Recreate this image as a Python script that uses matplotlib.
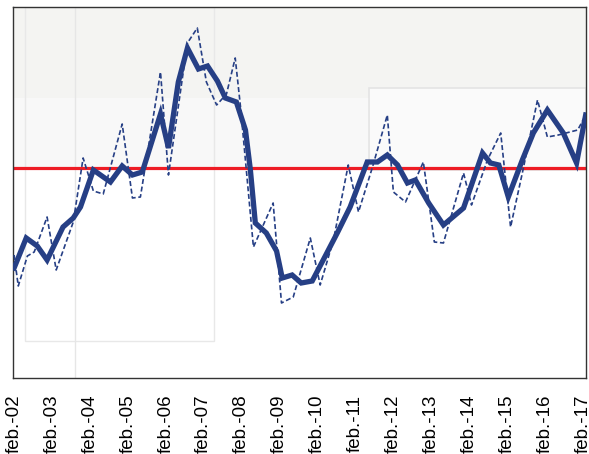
import matplotlib
matplotlib.use("Agg")
import matplotlib.pyplot as plt
from matplotlib.patches import Rectangle

# smoothed series (thick line): decimal year, index value
trend_x = [2002.0, 2002.32, 2002.61, 2002.87, 2003.29, 2003.56, 2003.75, 2004.09,
           2004.54, 2004.85, 2005.12, 2005.38, 2005.86, 2006.07, 2006.33, 2006.57,
           2006.86, 2007.10, 2007.36, 2007.57, 2007.86, 2008.10, 2008.23, 2008.36,
           2008.65, 2008.92, 2009.07, 2009.33, 2009.57, 2009.86, 2010.15, 2010.52,
           2010.86, 2011.31, 2011.58, 2011.84, 2012.11, 2012.37, 2012.58, 2012.93,
           2013.32, 2013.85, 2014.35, 2014.56, 2014.78, 2015.03, 2015.40, 2015.69,
           2016.06, 2016.48, 2016.83, 2017.07]
trend_y = [110, 140, 132, 118, 151, 160, 171, 208,
           196, 212, 203, 206, 264, 230, 296, 330,
           309, 312, 297, 280, 276, 248, 208, 155,
           145, 127, 100, 103, 95, 97, 118, 145,
           171, 216, 216, 223, 213, 195, 198, 175,
           153, 170, 225, 215, 213, 181, 218, 245,
           268, 245, 215, 263]

# quarterly series (dashed line)
raw_x = [2002.0, 2002.11, 2002.35, 2002.53, 2002.87, 2003.11, 2003.56, 2003.82,
         2004.09, 2004.35, 2004.85, 2005.12, 2005.33, 2005.86, 2006.07, 2006.57,
         2006.83, 2007.07, 2007.34, 2007.60, 2007.83, 2007.97, 2008.31, 2008.57,
         2008.83, 2009.05, 2009.36, 2009.81, 2010.07, 2010.42, 2010.81, 2011.08,
         2011.45, 2011.84, 2012.0, 2012.32, 2012.79, 2013.08, 2013.32, 2013.85,
         2014.06, 2014.48, 2014.83, 2015.09, 2015.40, 2015.80, 2016.06, 2016.35,
         2016.86, 2017.07]
raw_y = [123, 92, 122, 126, 161, 108, 156, 220,
         187, 184, 254, 180, 181, 306, 203, 335,
         350, 296, 273, 284, 320, 271, 131, 153,
         175, 75, 81, 140, 93, 138, 213, 166,
         211, 263, 186, 176, 216, 136, 135, 205,
         173, 218, 245, 151, 205, 278, 241, 243,
         248, 263]

ref_level = 210
tick_years = list(range(2002, 2018))
tick_labels = ["feb.-%02d" % (y % 100) for y in tick_years]

navy = "#263f85"

fig = plt.figure(figsize=(5.89, 4.54), dpi=100)
ax = fig.add_axes([0.022, 0.1674, 0.973, 0.8172])

# faint background panels seen in the original screenshot
ax.add_patch(Rectangle((0, 0.755), 1, 0.245, transform=ax.transAxes,
                       facecolor="#f4f4f2", edgecolor="none", zorder=0))
ax.add_patch(Rectangle((0, 0.56), 0.62, 0.195, transform=ax.transAxes,
                       facecolor="#f8f8f8", edgecolor="none", zorder=0))
ax.add_patch(Rectangle((0.622, 0.56), 0.378, 0.222, transform=ax.transAxes,
                       facecolor="#fafafa", edgecolor="#e4e4e4", lw=1.2, zorder=0))
ax.add_patch(Rectangle((0.021, 0.1), 0.33, 0.9, transform=ax.transAxes,
                       facecolor="none", edgecolor="#e8e8e8", lw=1.0, zorder=0))
ax.axvline(2003.6, color="#e6e6e6", lw=1.0, zorder=0)

ax.axhline(ref_level, color="#ee1c25", lw=2.3, zorder=2)
ax.plot(raw_x, raw_y, color=navy, lw=1.2, ls=(0, (3, 1.6)), zorder=3)
ax.plot(trend_x, trend_y, color=navy, lw=3.8, solid_joinstyle="miter", zorder=4)

ax.set_xlim(2001.97, 2017.08)
ax.set_ylim(0, 371)
ax.set_yticks([])
ax.set_xticks(tick_years)
ax.set_xticklabels(tick_labels, rotation=90, fontsize=13.5, family="Liberation Sans")
ax.tick_params(axis="x", length=0, pad=12)

for s in ax.spines.values():
    s.set_color("#333333")
    s.set_linewidth(1.0)

fig.savefig("out.png", dpi=100)
